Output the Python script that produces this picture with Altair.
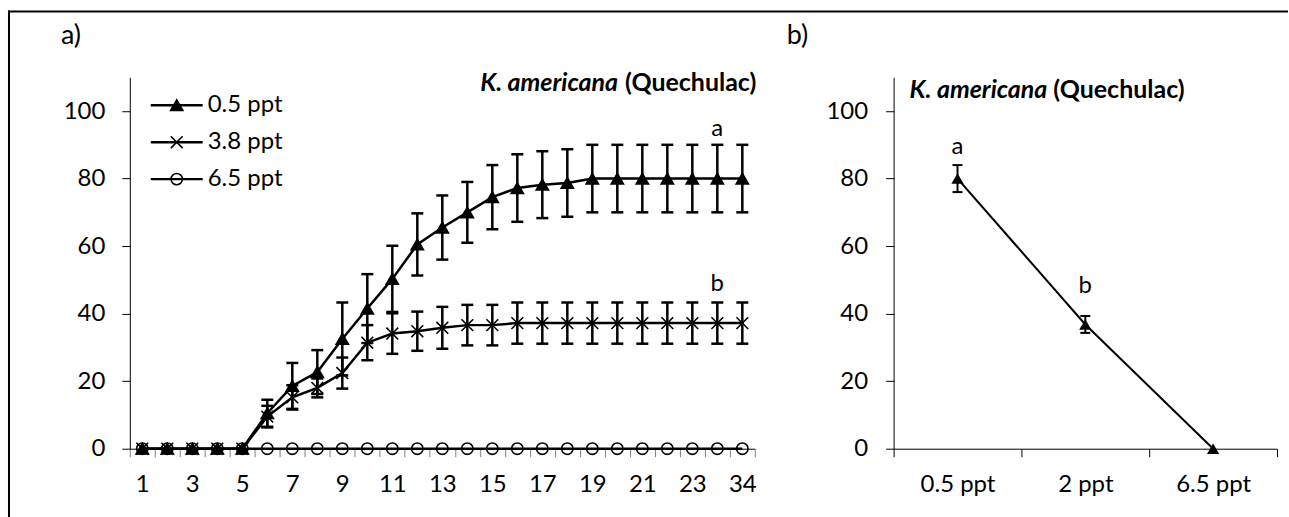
import json
import altair as alt
import pandas as pd

# ---------------- data ----------------
days = ["1", "2", "3", "4", "5", "6", "7", "8", "9", "10", "11", "12", "13",
        "14", "15", "16", "17", "18", "19", "20", "21", "22", "23", "24", "34"]
shown_day_labels = ["1", "3", "5", "7", "9", "11", "13", "15", "17", "19", "21", "23", "34"]

series = ["0.5 ppt", "3.8 ppt", "6.5 ppt"]

mean_05 = [0, 0, 0, 0, 0, 10.5, 18.6, 22.7, 32.5, 41.5, 50.3, 60.5, 65.5,
           70.0, 74.5, 77.2, 78.2, 78.7, 80, 80, 80, 80, 80, 80, 80]
err_05 = [0, 0, 0, 0, 0, 4.0, 6.8, 6.5, 10.8, 10.2, 9.8, 9.2, 9.5,
          9.0, 9.5, 10.0, 9.9, 10.0, 10, 10, 10, 10, 10, 10, 10]
mean_38 = [0, 0, 0, 0, 0, 9.5, 15.2, 18.0, 22.4, 31.4, 34.1, 34.8, 35.8,
           36.6, 36.6, 37.2, 37.2, 37.2, 37.2, 37.2, 37.2, 37.2, 37.2, 37.2, 37.2]
err_38 = [0, 0, 0, 0, 0, 3.2, 3.6, 2.8, 4.6, 5.2, 6.0, 5.8, 6.2,
          6.0, 6.0, 6.1, 6.1, 6.1, 6.1, 6.1, 6.1, 6.1, 6.1, 6.1, 6.1]
mean_65 = [0, 0, 0, 0, 0, 0, 0, 0, 0, 0, 0, 0, 0,
           0, 0, 0, 0, 0, 0, 0, 0, 0, 0, 0, 0]
err_65 = [0, 0, 0, 0, 0, 0, 0, 0, 0, 0, 0, 0, 0,
          0, 0, 0, 0, 0, 0, 0, 0, 0, 0, 0, 0]

letters_a_day = ["24", "24"]
letters_a_y = [92.7, 46.8]
letters_a_text = ["a", "b"]

cats_b = ["0.5 ppt", "2 ppt", "6.5 ppt"]
mean_b = [80.0, 36.8, 0.0]
err_b = [4.0, 2.5, 0.0]
letters_b_cat = ["0.5 ppt", "2 ppt"]
letters_b_y = [87.4, 46.1]
letters_b_text = ["a", "b"]

y_ticks = [0, 20, 40, 60, 80, 100]
panel_labels = ["a)", "b)"]
title_species = "K. americana"
title_site = "(Quechulac)"

# ---------------- tables ----------------
rows = []
for name, m, e in [(series[0], mean_05, err_05), (series[1], mean_38, err_38), (series[2], mean_65, err_65)]:
    for d, mv, ev in zip(days, m, e):
        rows.append({"series": name, "day": d, "mean": mv, "err": ev, "lo": mv - ev, "hi": mv + ev})
dfA = pd.DataFrame(rows)
dfLegA = pd.DataFrame({"series": series})
dfLetA = pd.DataFrame({"day": letters_a_day, "y": letters_a_y, "t": letters_a_text})

dfB = pd.DataFrame({"cat": cats_b, "mean": mean_b, "err": err_b,
                    "lo": [m - e for m, e in zip(mean_b, err_b)],
                    "hi": [m + e for m, e in zip(mean_b, err_b)]})
dfLetB = pd.DataFrame({"cat": letters_b_cat, "y": letters_b_y, "t": letters_b_text})

one = pd.DataFrame({"k": [0]})

FONT = "Lato"
FS = 24
TFS = 25

shape_scale = alt.Scale(domain=series, range=["triangle-up", "M-1,-1L1,1M-1,1L1,-1", "circle"])
fill_scale = alt.Scale(domain=series, range=["black", "transparent", "transparent"])
size_scale = alt.Scale(domain=series, range=[150, 130, 100])
ydom = alt.Scale(domain=[0, 110], nice=False, zero=True)

# ---------------- panel a ----------------
label_expr = "indexof(" + json.dumps(shown_day_labels) + ", datum.label) >= 0 ? datum.label : ''"
xA_axis = alt.Axis(title=None, labelExpr=label_expr, tickBand="extent", labelOverlap=False,
                   labelAngle=0, labelPadding=16, tickColor="#808080", domainColor="black")
xA_scale = alt.Scale(type="band", domain=days, paddingInner=0, paddingOuter=0)


def xA():
    return alt.X("day:N", scale=xA_scale, bandPosition=0.5, axis=xA_axis)


yA_axis = alt.Axis(title=None, values=y_ticks, labelPadding=17)


def yA(field):
    return alt.Y(field, scale=ydom, axis=yA_axis)


linesA = alt.Chart(dfA).mark_line(color="black", strokeWidth=2.5).encode(
    x=xA(), y=yA("mean:Q"), detail="series:N")

errA = dfA[dfA["err"] > 0]
rulesA = alt.Chart(errA).mark_rule(color="black", strokeWidth=2.5).encode(
    x=xA(), y=yA("lo:Q"), y2="hi:Q")
capLoA = alt.Chart(errA).mark_tick(color="black", thickness=2.5, size=12, orient="horizontal", opacity=1).encode(
    x=xA(), y=yA("lo:Q"))
capHiA = alt.Chart(errA).mark_tick(color="black", thickness=2.5, size=12, orient="horizontal", opacity=1).encode(
    x=xA(), y=yA("hi:Q"))

pointsA = alt.Chart(dfA).mark_point(stroke="black", strokeWidth=1.6, opacity=1).encode(
    x=xA(), y=yA("mean:Q"),
    shape=alt.Shape("series:N", scale=shape_scale, legend=None),
    fill=alt.Fill("series:N", scale=fill_scale, legend=None),
    size=alt.Size("series:N", scale=size_scale, legend=None))

lettersA = alt.Chart(dfLetA).mark_text(font=FONT, fontSize=FS, color="black", align="center",
                                       baseline="alphabetic").encode(
    x=xA(), y=yA("y:Q"), text="t:N")

titleA1 = alt.Chart(one).mark_text(text=title_species, font=FONT, fontSize=TFS, fontWeight="bold",
                                   fontStyle="italic", align="right", baseline="alphabetic",
                                   color="black").encode(x=alt.value(489), y=alt.value(14))
titleA2 = alt.Chart(one).mark_text(text=title_site, font=FONT, fontSize=TFS, fontWeight="bold",
                                   align="left", baseline="alphabetic",
                                   color="black").encode(x=alt.value(496), y=alt.value(14))
panelLabA = alt.Chart(one).mark_text(text=panel_labels[0], font=FONT, fontSize=27, align="left",
                                     baseline="alphabetic", color="black").encode(
    x=alt.value(-69), y=alt.value(-33.5))
borderTop = alt.Chart(one).mark_rule(color="black", strokeWidth=2).encode(
    x=alt.value(-122), x2=alt.value(1160), y=alt.value(-66))
borderLeft = alt.Chart(one).mark_rule(color="black", strokeWidth=2).encode(
    x=alt.value(-121), y=alt.value(-67), y2=alt.value(441))

mainA = alt.layer(linesA, rulesA, capLoA, capHiA, pointsA, lettersA,
                  titleA1, titleA2, panelLabA, borderTop, borderLeft)

legY = alt.Y("series:N", scale=alt.Scale(type="point", domain=series, range=[28, 102], padding=0), axis=None)
legRule = alt.Chart(dfLegA).mark_rule(color="black", strokeWidth=2.5).encode(
    x=alt.value(21), x2=alt.value(73), y=legY)
legPts = alt.Chart(dfLegA).mark_point(stroke="black", strokeWidth=1.6, opacity=1).encode(
    x=alt.value(47), y=legY,
    shape=alt.Shape("series:N", scale=shape_scale, legend=None),
    fill=alt.Fill("series:N", scale=fill_scale, legend=None),
    size=alt.Size("series:N", scale=size_scale, legend=None))
legTxt = alt.Chart(dfLegA).mark_text(font=FONT, fontSize=FS, align="left", baseline="middle",
                                     color="black").encode(x=alt.value(78), y=legY, text="series:N")
legendA = alt.layer(legRule, legPts, legTxt)

panelA = alt.layer(mainA, legendA).resolve_scale(y="independent").properties(width=626, height=372)

# ---------------- panel b ----------------
xB_scale = alt.Scale(type="band", domain=cats_b, paddingInner=0, paddingOuter=0)
xB_axis = alt.Axis(title=None, tickBand="extent", labelAngle=0, labelPadding=16, labelOverlap=False)
yB_axis = alt.Axis(title=None, values=y_ticks, labelPadding=18)


def xB():
    return alt.X("cat:N", scale=xB_scale, bandPosition=0.5, axis=xB_axis)


def yB(field):
    return alt.Y(field, scale=ydom, axis=yB_axis)


lineB = alt.Chart(dfB).mark_line(color="black", strokeWidth=2).encode(x=xB(), y=yB("mean:Q"))
errB = dfB[dfB["err"] > 0]
ruleB = alt.Chart(errB).mark_rule(color="black", strokeWidth=2).encode(
    x=xB(), y=yB("lo:Q"), y2="hi:Q")
capLoB = alt.Chart(errB).mark_tick(color="black", thickness=2, size=10, orient="horizontal", opacity=1).encode(
    x=xB(), y=yB("lo:Q"))
capHiB = alt.Chart(errB).mark_tick(color="black", thickness=2, size=10, orient="horizontal", opacity=1).encode(
    x=xB(), y=yB("hi:Q"))
ptsB = alt.Chart(dfB).mark_point(shape="triangle-up", size=150, filled=True, color="black", opacity=1).encode(
    x=xB(), y=yB("mean:Q"))
lettersB = alt.Chart(dfLetB).mark_text(font=FONT, fontSize=FS, color="black", align="center",
                                       baseline="alphabetic").encode(
    x=xB(), y=yB("y:Q"), text="t:N")
titleB1 = alt.Chart(one).mark_text(text=title_species, font=FONT, fontSize=TFS, fontWeight="bold",
                                   fontStyle="italic", align="right", baseline="alphabetic",
                                   color="black").encode(x=alt.value(154), y=alt.value(21))
titleB2 = alt.Chart(one).mark_text(text=title_site, font=FONT, fontSize=TFS, fontWeight="bold",
                                   align="left", baseline="alphabetic",
                                   color="black").encode(x=alt.value(160), y=alt.value(21))
panelLabB = alt.Chart(one).mark_text(text=panel_labels[1], font=FONT, fontSize=27, align="left",
                                     baseline="alphabetic", color="black").encode(
    x=alt.value(-107), y=alt.value(-33.5))

panelB = alt.layer(lineB, ruleB, capLoB, capHiB, ptsB, lettersB, titleB1, titleB2, panelLabB).properties(
    width=384, height=372)

chart = alt.hconcat(panelA, panelB, spacing=139, bounds="flush").properties(
    padding={"left": 7, "top": 9, "right": 0, "bottom": 0},
    background="white",
).configure_view(stroke=None).configure_axis(
    labelFont=FONT, labelFontSize=FS, labelColor="black", domainColor="black", domainWidth=1,
    tickColor="black", tickWidth=1, tickSize=8, grid=False,
)

chart.save("out.html", embed_options={"renderer": "svg", "actions": False})
